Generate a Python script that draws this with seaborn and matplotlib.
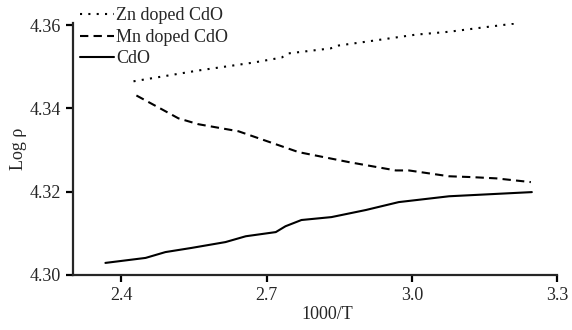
import matplotlib
matplotlib.use('Agg')
import matplotlib.pyplot as plt
import seaborn as sns
import pandas as pd

# Zn doped CdO (dotted)
zn_x = [2.425, 2.559, 2.673, 2.731, 2.745, 2.832, 2.849, 2.905, 3.008, 3.077, 3.145, 3.215]
zn_y = [4.3465, 4.3491, 4.3510, 4.3522, 4.3532, 4.3544, 4.3551, 4.3560, 4.3577, 4.3584, 4.3594, 4.3604]

# Mn doped CdO (dashed)
mn_x = [2.431, 2.477, 2.518, 2.559, 2.642, 2.766, 2.870, 2.967, 2.994, 3.077, 3.124, 3.174, 3.246]
mn_y = [4.3431, 4.3402, 4.3376, 4.3362, 4.3345, 4.3295, 4.3271, 4.3251, 4.3251, 4.3237, 4.3235, 4.3232, 4.3223]

# CdO (solid)
cdo_x = [2.367, 2.450, 2.491, 2.545, 2.615, 2.657, 2.719, 2.739, 2.772, 2.834, 2.905, 2.973, 3.077, 3.248]
cdo_y = [4.3029, 4.3041, 4.3055, 4.3065, 4.3079, 4.3093, 4.3103, 4.3117, 4.3132, 4.3139, 4.3156, 4.3175, 4.3189, 4.3199]

x_ticks = [2.4, 2.7, 3.0, 3.3]
y_ticks = [4.30, 4.32, 4.34, 4.36]

sns.set_style('ticks')
plt.rcParams['font.family'] = ['Liberation Serif', 'DejaVu Serif']
plt.rcParams['font.size'] = 13

fig = plt.figure(figsize=(5.72, 3.30), dpi=100)
ax = fig.add_axes([0.1276, 0.1667, 0.8462, 0.7636])

sns.lineplot(x=zn_x, y=zn_y, ax=ax, color='black', linestyle=(0, (1, 3)), lw=1.5, label='Zn doped CdO')
sns.lineplot(x=mn_x, y=mn_y, ax=ax, color='black', linestyle=(0, (4, 2.5)), lw=1.5, label='Mn doped CdO')
sns.lineplot(x=cdo_x, y=cdo_y, ax=ax, color='black', linestyle='-', lw=1.5, label='CdO')

ax.set_xlim(2.3, 3.3)
ax.set_ylim(4.30, 4.3605)
ax.set_xticks(x_ticks)
ax.set_xticklabels([f'{t:.1f}' for t in x_ticks])
ax.set_yticks(y_ticks)
ax.set_yticklabels([f'{t:.2f}' for t in y_ticks])
ax.set_xlabel('1000/T', fontsize=13)
ax.set_ylabel('Log ρ', fontsize=13)
ax.xaxis.set_label_coords(0.525, -0.125)
ax.yaxis.set_label_coords(-0.095, 0.5)

sns.despine(ax=ax)
for s in ['left', 'bottom']:
    ax.spines[s].set_linewidth(1.6)
ax.tick_params(axis='both', width=1.6, length=5, labelsize=13, color='black', direction='out')

ax.legend(loc='upper left', bbox_to_anchor=(-0.008, 1.105), frameon=False, handlelength=1.9,
          handletextpad=0.1, labelspacing=0.25, borderaxespad=0.2, fontsize=13)

fig.savefig('out.png', dpi=100)
